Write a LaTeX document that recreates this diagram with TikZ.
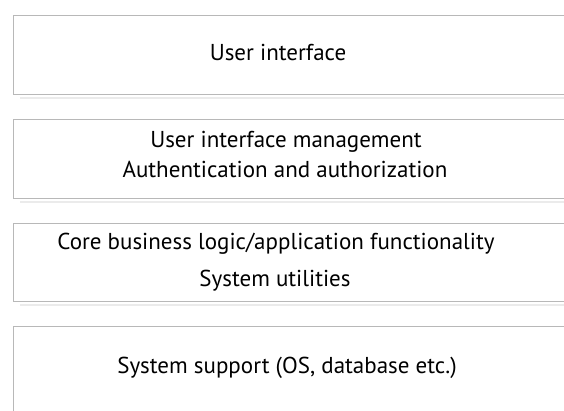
\documentclass[tikz,border=0pt]{standalone}
\usepackage{fontspec}
\setmainfont{PT Sans}
\begin{document}
\begin{tikzpicture}[x=1pt,y=-1pt,
  layer/.style={draw=black!28,line width=0.9pt},
  shade/.style={draw=black!8,line width=2pt},
  lbl/.style={font=\fontsize{23}{27}\selectfont,text=black,inner sep=0pt,anchor=base}]
\useasboundingbox (0,0) rectangle (564,411);
\clip (0,0) rectangle (564,411);
% layers
\draw[layer] (580,15) -- (13,15) -- (13,94) -- (580,94);
\draw[shade] (20,98) -- (580,98);
\draw[layer] (580,119) -- (13,119) -- (13,198) -- (580,198);
\draw[shade] (20,202) -- (580,202);
\draw[layer] (580,223) -- (13,223) -- (13,301) -- (580,301);
\draw[shade] (20,305) -- (580,305);
\draw[layer] (580,326) -- (13,326) -- (13,420);
% texts
\node[lbl] (ui) at (278,61) {User interface};
\node[lbl] (uim) at (286,148) {User interface management};
\node[lbl] (auth) at (285,178) {Authentication and authorization};
\node[lbl] (core) at (276,250) {Core business logic/application functionality};
\node[lbl] (util) at (275,287) {System utilities};
\node[lbl] (sys) at (287,373) {System support (OS, database etc.)};
\end{tikzpicture}
\end{document}
